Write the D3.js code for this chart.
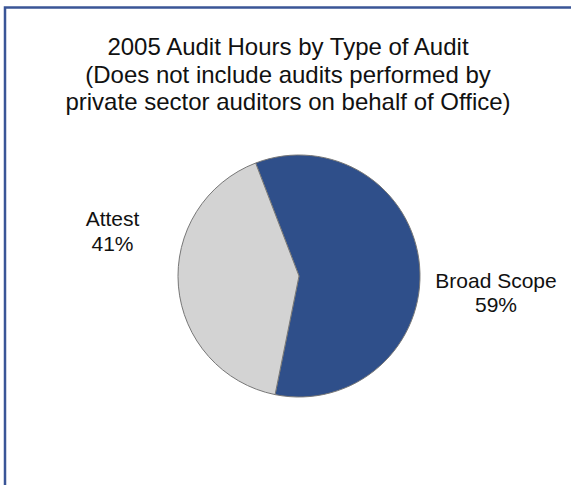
<!DOCTYPE html>
<html>
<head>
<meta charset="utf-8">
<script src="https://cdn.jsdelivr.net/npm/d3@7"></script>
<style>
  html, body { margin: 0; padding: 0; background: #fff; }
  svg { display: block; }
  text { font-family: "Liberation Sans", Arial, Helvetica, sans-serif; fill: #111; }
</style>
</head>
<body>
<svg id="chart" width="571" height="485"></svg>
<script>
// Audit hours share by type of audit, 2005
const categories = ["Broad Scope", "Attest"];
const shares = [59, 41];
const sliceColors = ["#2f4f8a", "#d3d3d3"];
const titleLines = [
  "2005 Audit Hours by Type of Audit",
  "(Does not include audits performed by",
  "private sector auditors on behalf of Office)"
];

const svg = d3.select("#chart");

// frame (right and bottom edges run off the page)
svg.append("rect")
  .attr("x", 5).attr("y", 7.5)
  .attr("width", 600).attr("height", 600)
  .attr("fill", "none")
  .attr("stroke", "#3a5597")
  .attr("stroke-width", 2.5);

// title
const title = svg.append("g").attr("font-size", 24);
titleLines.forEach((t, i) => {
  title.append("text")
    .attr("x", 288)
    .attr("y", 55 + i * 27.6)
    .attr("text-anchor", "middle")
    .text(t);
});

// pie
const cx = 299, cy = 276, r = 121;
const startDeg = -21;
const pie = d3.pie().sort(null).value(d => d.v)
  .startAngle(startDeg * Math.PI / 180)
  .endAngle((startDeg + 360) * Math.PI / 180);
const data = categories.map((c, i) => ({ c, v: shares[i], color: sliceColors[i] }));
const arcs = pie(data);
const arc = d3.arc().innerRadius(0).outerRadius(r);

const g = svg.append("g").attr("transform", `translate(${cx},${cy})`);
g.selectAll("path").data(arcs).join("path")
  .attr("d", arc)
  .attr("fill", d => d.data.color)
  .attr("stroke", "#777")
  .attr("stroke-width", 1);

// slice labels, placed outside the pie
const labelPos = {
  "Broad Scope": [496, 287.5],
  "Attest": [112.5, 226]
};
const total = d3.sum(shares);
arcs.forEach(a => {
  const [lx, ly] = labelPos[a.data.c];
  const t = svg.append("text")
    .attr("font-size", 21)
    .attr("text-anchor", "middle");
  t.append("tspan").attr("x", lx).attr("y", ly).text(a.data.c);
  t.append("tspan").attr("x", lx).attr("y", ly + 24.5)
    .text(Math.round(a.data.v / total * 100) + "%");
});
</script>
</body>
</html>
